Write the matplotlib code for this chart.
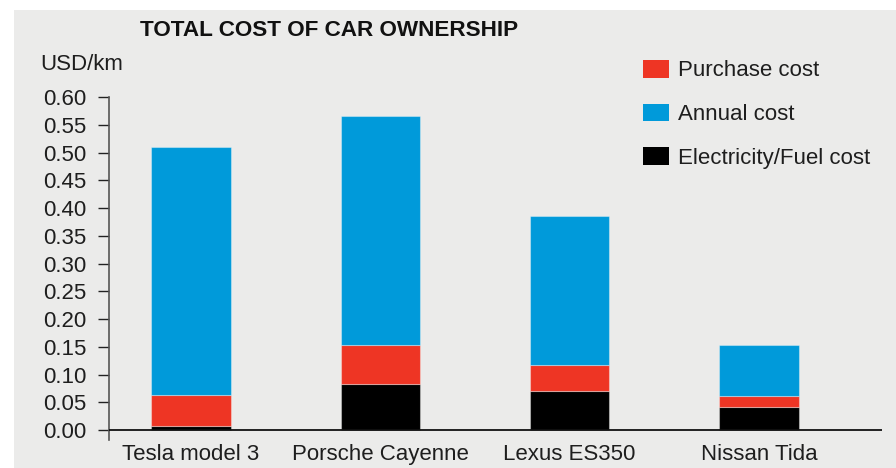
import matplotlib
matplotlib.use('Agg')
import matplotlib.pyplot as plt
from matplotlib.patches import Patch, Rectangle

plt.rcParams['font.family'] = ['Liberation Sans', 'DejaVu Sans']

cars = ['Tesla model 3', 'Porsche Cayenne', 'Lexus ES350', 'Nissan Tida']
fuel_cost = [0.008, 0.082, 0.071, 0.041]
purchase_cost = [0.055, 0.072, 0.046, 0.021]
annual_cost = [0.447, 0.411, 0.269, 0.092]
y_ticks = [0.00, 0.05, 0.10, 0.15, 0.20, 0.25, 0.30, 0.35, 0.40, 0.45, 0.50, 0.55, 0.60]

red = '#EE3524'
blue = '#009ADA'
black = '#000000'
bg = '#EBEBEA'
text_color = '#1e1e1e'

W, H = 896, 468
fig = plt.figure(figsize=(W / 100, H / 100), dpi=100)
fig.patch.set_facecolor('white')
fig.patches.append(Rectangle((14 / W, 0), 1 - 14 / W, 1 - 10 / H, transform=fig.transFigure,
                             facecolor=bg, edgecolor='none', zorder=-10))

ax = fig.add_axes([109 / W, 1 - 440 / H, (882 - 109) / W, (440 - 97) / H])
ax.set_facecolor('none')

x = list(range(len(cars)))
width = 0.42
edge = (1, 1, 1, 0.35)
bottom2 = [f + p for f, p in zip(fuel_cost, purchase_cost)]
ax.bar(x, fuel_cost, width, color=black, edgecolor=edge, linewidth=0.8)
ax.bar(x, purchase_cost, width, bottom=fuel_cost, color=red, edgecolor=edge, linewidth=0.8)
ax.bar(x, annual_cost, width, bottom=bottom2, color=blue, edgecolor=edge, linewidth=0.8)

ax.axhline(0, color='#111111', linewidth=1.3, zorder=3)
ax.set_xlim(-0.433, 3.65)
ax.set_ylim(-0.018, 0.60)

for s in ['top', 'right', 'bottom']:
    ax.spines[s].set_visible(False)
ax.spines['left'].set_color('#555555')
ax.spines['left'].set_linewidth(1.2)

ax.set_yticks(y_ticks)
ax.set_yticklabels([f'{v:.2f}' for v in y_ticks])
ax.tick_params(axis='y', direction='out', length=8, width=1, color='#222222',
               pad=8.5, labelsize=16, labelcolor=text_color)
ax.set_xticks(x)
ax.set_xticklabels(cars)
ax.tick_params(axis='x', length=0, pad=3, labelsize=16, labelcolor=text_color)

fig.text(140 / W, 1 - 31 / H, 'TOTAL COST OF CAR OWNERSHIP', fontsize=16.2, fontweight='bold',
         color='#111111', ha='left', va='center')
fig.text(40 / W, 1 - 65 / H, 'USD/km', fontsize=16, color=text_color, ha='left', va='center')

handles = [Patch(facecolor=red, label='Purchase cost'),
           Patch(facecolor=blue, label='Annual cost'),
           Patch(facecolor=black, label='Electricity/Fuel cost')]
leg = fig.legend(handles=handles, loc='upper left', bbox_to_anchor=(643 / W, 1 - 60 / H),
                 bbox_transform=fig.transFigure, frameon=False, fontsize=16,
                 handlelength=1.15, handleheight=0.84, handletextpad=0.42,
                 labelspacing=1.0, borderpad=0, borderaxespad=0)
for t in leg.get_texts():
    t.set_color(text_color)

fig.savefig('out.png', dpi=100)
